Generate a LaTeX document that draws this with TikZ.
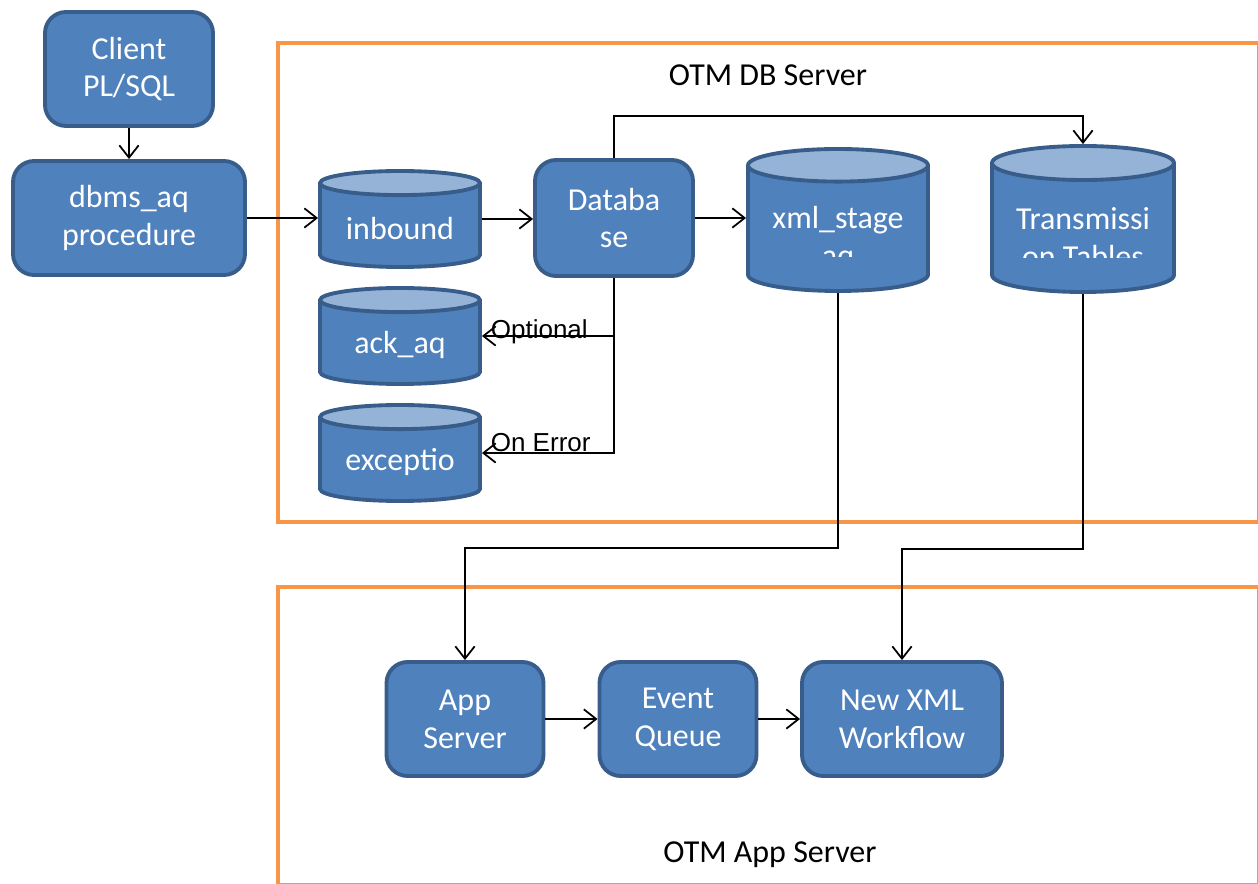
\documentclass[tikz,border=0pt]{standalone}
\usepackage{fontspec}
\setmainfont{Carlito}
\newfontfamily\arialfont{Liberation Sans}
\usetikzlibrary{shapes.geometric,arrows.meta,calc}
\definecolor{boxBlue}{RGB}{79,129,189}
\definecolor{boxEdge}{RGB}{56,93,138}
\definecolor{capBlue}{RGB}{149,179,215}
\definecolor{frameOrange}{RGB}{247,150,70}
\newcommand\otmfont{\fontsize{18.2pt}{21.6pt}\selectfont}

\begin{document}
\begin{tikzpicture}[
        proc/.style={rounded corners=12pt,draw=boxEdge,fill=boxBlue,line width=2.2pt,
                     text=white,align=center,font=\otmfont,minimum height=2.28cm},
        queue/.style={cylinder,shape border rotate=90,aspect=0.17,draw=boxEdge,line width=2.2pt,
                      cylinder uses custom fill,cylinder body fill=boxBlue,cylinder end fill=capBlue,
                      text=white,font=\otmfont,text width=2.6cm,align=center,anchor=shape center},
        qtext/.style={text=white,font=\otmfont,align=center,inner sep=0pt},
        flow/.style={line width=1pt,-{Straight Barb[length=7pt,width=11pt]}},
        frame/.style={draw=frameOrange,line width=2.3pt},
        tag/.style={font=\arialfont\fontsize{14.8pt}{17pt}\selectfont,inner sep=0pt,anchor=base west}
    ]
    \useasboundingbox (0,0) rectangle (25.16,-17.68);

    % server frames, cut at the page edge
    \begin{scope}
        \clip (0,0) rectangle (25.16,-17.68);
        \draw[frame] (5.56,-0.86) rectangle (25.19,-10.44);
        \draw[frame] (5.56,-11.74) rectangle (25.19,-17.71);
    \end{scope}
    \node[font=\otmfont] (dbsrv) at (15.36,-1.5) {OTM DB Server};
    \node[font=\otmfont] (appsrv) at (15.4,-17.1) {OTM App Server};

    % client side
    \node[proc,minimum width=3.36cm] (client) at (2.58,-1.38) {Client\\PL/SQL};
    \node[proc,minimum width=4.64cm] (dbms) at (2.58,-4.36) {dbms\_aq\\procedure};

    % queues and tables
    \node[queue,minimum width=3.2cm,minimum height=1.92cm] (inbound) at (8.0,-4.38) {inbound};
    \node[queue,minimum width=3.2cm,minimum height=1.92cm] (ack) at (8.0,-6.72) {ack\_aq};
    \node[queue,minimum width=3.2cm,minimum height=1.92cm] (exc) at (8.0,-9.06) {exceptio};
    \node[proc,minimum width=3.16cm,minimum height=2.32cm] (db) at (12.28,-4.36) {Databa\\se};
    \node[queue,aspect=0.23,minimum width=3.6cm,minimum height=2.84cm] (xml) at (16.76,-4.40) {};
    \node[queue,aspect=0.24,minimum width=3.64cm,minimum height=2.92cm] (trans) at (21.66,-4.38) {};
    \begin{scope}
        \clip ($(xml.north west)+(-0.1,0.1)$) rectangle ($(xml.shape center -| xml.east)+(0.1,-0.74)$);
        \node[qtext] (xmltxt) at (16.76,-4.78) {xml\_stage\\aq};
    \end{scope}
    \begin{scope}
        \clip ($(trans.north west)+(-0.1,0.1)$) rectangle ($(trans.shape center -| trans.east)+(0.1,-0.78)$);
        \node[qtext] (transtxt) at (21.66,-4.76) {Transmissi\\on Tables};
    \end{scope}

    % app server
    \node[proc,minimum width=3.14cm] (app) at (9.30,-14.38) {App\\Server};
    \node[proc,minimum width=3.14cm] (event) at (13.56,-14.38) {Event\\Queue};
    \node[proc,minimum width=4.0cm] (wf) at (18.04,-14.38) {New XML\\Workflow};

    % connectors
    \draw[flow] (client) -- (dbms);
    \draw[flow] (dbms.east) -- (dbms.east -| inbound.west);
    \draw[flow] (inbound.east |- inbound.shape center) -- (inbound.east |- inbound.shape center -| db.west);
    \draw[flow] (db.east) -- (db.east -| xml.west);
    \draw[flow] (db.north) -- ++(0,0.84) -| (trans.north);
    \draw[flow] (db.south |- ack.shape center) -- (ack.east |- ack.shape center)
        node[tag,pos=1,xshift=0.16cm,yshift=-0.06cm] (opt) {Optional};
    \draw[flow] (db.south) |- (exc.east |- exc.shape center)
        node[tag,pos=1,xshift=0.16cm,yshift=0.02cm] (err) {On Error};
    \draw[flow] (xml.south) -- ++(0,-5.1) -| (app.north);
    \draw[flow] (trans.south) -- ++(0,-5.1) -| (wf.north);
    \draw[flow] (app) -- (event);
    \draw[flow] (event) -- (wf);
\end{tikzpicture}
\end{document}
